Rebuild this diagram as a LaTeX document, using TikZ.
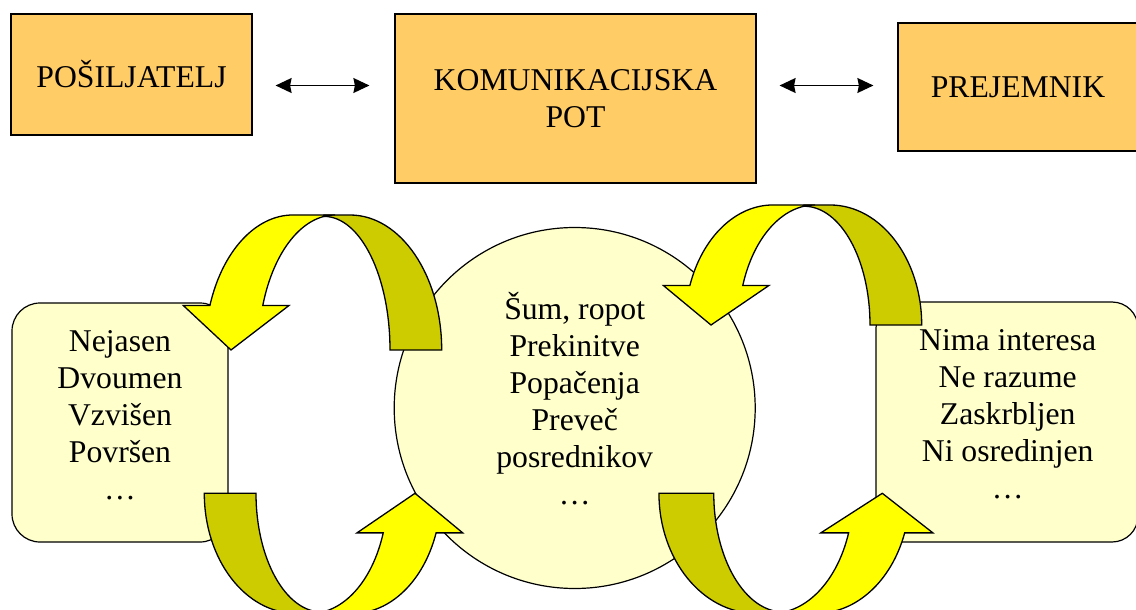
\documentclass[tikz,border=0pt]{standalone}
\usepackage{fontspec}
\setmainfont{Liberation Serif}
\usepackage{tikz}
\usetikzlibrary{arrows.meta, calc}

\definecolor{boxorange}{HTML}{FFCC66}
\definecolor{paleyellow}{HTML}{FFFFCC}
\definecolor{arrowfront}{HTML}{FFFF00}
\definecolor{arrowback}{HTML}{CCCC00}

\begin{document}
\begin{tikzpicture}[
      x=1pt, y=-1pt, % pixel grid, y runs downwards
      >={Stealth[length=16pt,width=15pt,inset=1.5pt]},
      font=\fontsize{31.7}{37}\selectfont,
      party/.style={draw, line width=1.2pt, fill=boxorange, inner sep=0pt, align=center},
      trouble/.style={draw, line width=1.2pt, fill=paleyellow},
      words/.style={inner sep=0pt, align=center},
      link/.style={<->, line width=1.3pt},
      front/.style={draw, line width=1.3pt, fill=arrowfront},
      back/.style={draw, line width=1.3pt, fill=arrowback},
      curvarrow/.pic={
        \path[back] (210.7,0) arc[start angle=0, end angle=90, x radius=91.7, y radius=135]
          -- (93,135) -- (93,133.6)
          arc[start angle=90, end angle=0, x radius=66, y radius=133.6] -- cycle;
        \path[front] (-21.1,44.5) arc[start angle=160.76, end angle=90, x radius=88, y radius=135]
          -- (104,135) arc[start angle=90, end angle=160.76, x radius=76.5, y radius=135]
          -- (58,44.5) -- (0,0) -- (-47.7,44.5) -- cycle;
      },
    ]
    \useasboundingbox (0,0) rectangle (1136,610);

    % ---- top row --------------------------------------------------------
    \node[party, minimum width=241pt, minimum height=121pt] (sender) at (131.5,74.5) {POŠILJATELJ};
    \node[party, minimum width=361pt, minimum height=169pt] (channel) at (575.5,98.5) {KOMUNIKACIJSKA\\POT};
    \node[party, minimum width=240pt, minimum height=128pt] (receiver) at (1018,87) {PREJEMNIK};

    \coordinate (linkrow) at (0,85.5);
    \draw[link, shorten <=23pt, shorten >=25pt] (sender.east |- linkrow) -- (channel.west |- linkrow);
    \draw[link, shorten <=23pt, shorten >=24pt] (channel.east |- linkrow) -- (receiver.west |- linkrow);

    % ---- obstacles ------------------------------------------------------
    \node[trouble, rounded corners=28pt, minimum width=216pt, minimum height=239pt] (sendnoise) at (120,422.5) {};
    \node[trouble, circle, inner sep=0pt, minimum size=361pt] (noise) at (574.7,408) {};
    \node[trouble, rounded corners=26pt, minimum width=262pt, minimum height=240pt] (recvnoise) at (1007,422) {};

    \node[words] (sendtext) at (120,415) {Nejasen\\Dvoumen\\Vzvišen\\Površen\\…};
    \node[words] (noisetext) at (574.7,398.5) {Šum, ropot\\Prekinitve\\Popačenja\\Preveč\\posrednikov\\…};
    \node[words] (recvtext) at (1007.7,414.5) {Nima interesa\\Ne razume\\Zaskrbljen\\Ni osredinjen\\…};

    % ---- curved arrows --------------------------------------------------
    \pic[yscale=-1] at (231,350) {curvarrow};
    \pic[yscale=-0.889] at (711,325) {curvarrow};
    \pic[xscale=-1, yscale=0.889] at (415,493.3) {curvarrow};
    \pic[xscale=-1.06, yscale=0.889] at (882.3,493.3) {curvarrow};
  \end{tikzpicture}
\end{document}
